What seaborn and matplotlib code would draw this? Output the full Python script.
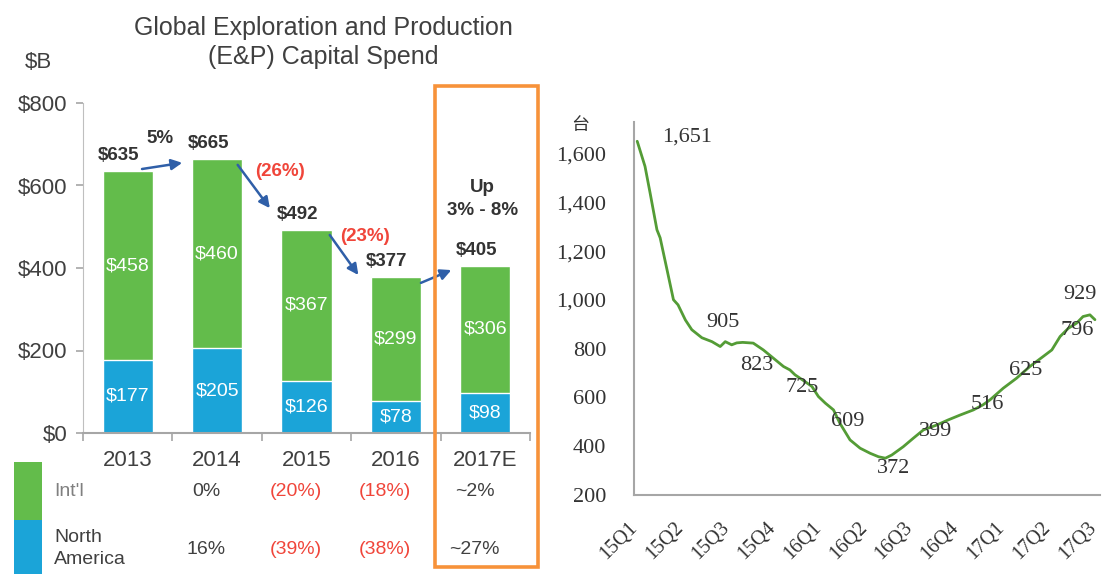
import numpy as np
import matplotlib
matplotlib.use("Agg")
import matplotlib.pyplot as plt
import matplotlib.patches as mpatches
import matplotlib.transforms as mtransforms
import seaborn as sns

# ---------------- data: E&P capital spend ($B) ----------------
years = ["2013", "2014", "2015", "2016", "2017E"]
intl = [458, 460, 367, 299, 306]
north_am = [177, 205, 126, 78, 98]
totals = [635, 665, 492, 377, 405]
yoy_change = ["5%", "(26%)", "(23%)", ""]
intl_growth = ["", "0%", "(20%)", "(18%)", "~2%"]
na_growth = ["", "16%", "(39%)", "(38%)", "~27%"]

# ---------------- data: rig count (台) ----------------
quarters = ["15Q1", "15Q2", "15Q3", "15Q4", "16Q1", "16Q2",
            "16Q3", "16Q4", "17Q1", "17Q2", "17Q3"]
rig_q = [0, 0.17, 0.28, 0.43, 0.5, 0.65, 0.79, 0.89, 1.05, 1.19, 1.41, 1.63,
         1.81, 1.92, 2.06, 2.17, 2.3, 2.53, 2.75, 2.97, 3.19, 3.33, 3.44, 3.66,
         3.81, 3.95, 4.1, 4.28, 4.42, 4.64, 4.86, 5.08, 5.26, 5.41, 5.55, 5.8,
         6.02, 6.24, 6.53, 6.78, 7.04, 7.33, 7.54, 7.69, 7.98, 8.27, 8.56, 8.85,
         9.04, 9.22, 9.4, 9.58, 9.72, 9.87, 9.98]
rig_count = [1651, 1548, 1440, 1288, 1255, 1124, 1001, 980, 918, 878, 845, 829,
             809, 829, 816, 824, 826, 823, 795, 761, 727, 713, 693, 665,
             645, 604, 577, 549, 494, 426, 392, 371, 357, 351, 364, 398,
             433, 467, 487, 508, 528, 549, 570, 590, 638, 679, 727, 768,
             795, 850, 884, 905, 932, 939, 919]
callouts = ["1,651", "905", "823", "725", "609", "372", "399", "516", "625", "796", "929"]
callout_pos = [(1.09, 1670), (1.87, 906), (2.61, 730), (3.59, 643), (4.58, 500),
               (5.58, 307), (6.51, 459), (7.63, 570), (8.47, 709), (9.59, 873),
               (9.65, 1021)]

GREEN = "#63bc4b"
BLUE = "#1ba4d8"
ARROW = "#2f5fa8"
RED = "#f0453a"
DARK = "#404040"
ORANGE = "#f7923a"

sns.set_style("white")
plt.rcParams["font.family"] = ["Liberation Sans", "DejaVu Sans"]

W, H = 1102, 574
fig = plt.figure(figsize=(W / 100, H / 100), dpi=100)


def fx(px):
    return px / W


def fy(py):
    return 1 - py / H


# =========================================================
# LEFT: stacked bars
# =========================================================
ax = fig.add_axes([fx(83), fy(433), fx(530) - fx(83), fy(103) - fy(433)])
sns.barplot(x=years, y=totals, color=GREEN, width=0.56, saturation=1, ax=ax)
sns.barplot(x=years, y=north_am, color=BLUE, width=0.56, saturation=1, ax=ax)
ax.set_xlim(-0.5, 4.5)
ax.set_ylim(0, 800)
ax.set_yticks([0, 200, 400, 600, 800])
ax.set_yticklabels(["$0", "$200", "$400", "$600", "$800"])
ax.set_xticks(range(5))
ax.set_xticklabels(years)
ax.set_xticks([-0.5, 0.5, 1.5, 2.5, 3.5, 4.5], minor=True)
ax.tick_params(axis="y", length=5, width=1.2, color="#a6a6a6", pad=6,
               labelsize=16, labelcolor=DARK, left=True)
ax.tick_params(axis="x", which="major", length=0, pad=12, labelsize=16, labelcolor=DARK)
ax.tick_params(axis="x", which="minor", length=6, width=1.2, color="#a6a6a6", bottom=True)
for s in ["top", "right"]:
    ax.spines[s].set_visible(False)
ax.spines["left"].set_color("#bfbfbf")
ax.spines["bottom"].set_color("#a6a6a6")
ax.spines["bottom"].set_linewidth(1.5)
ax.set_xlabel("")
ax.set_ylabel("")

for i in range(5):
    ax.text(i, north_am[i] / 2, f"${north_am[i]}", color="white", fontsize=14,
            ha="center", va="center")
    ax.text(i, north_am[i] + intl[i] / 2, f"${intl[i]}", color="white", fontsize=14,
            ha="center", va="center")
    ax.text(i - 0.1, totals[i] + 38, f"${totals[i]}", color="#333333", fontsize=13.5,
            fontweight="bold", ha="center", va="center")

arrows = [((0.16, 640), (0.61, 655)), ((1.23, 650), (1.59, 545)),
          ((2.26, 480), (2.58, 383)), ((3.28, 364), (3.62, 395))]
for (a, b) in arrows:
    ax.annotate("", xy=b, xytext=a,
                arrowprops=dict(arrowstyle="-|>", color=ARROW, lw=1.8,
                                mutation_scale=16, shrinkA=0, shrinkB=0))
change_pos = [(0.36, 713), (1.70, 633), (2.65, 477)]
for lab, (x, y) in zip(yoy_change, change_pos):
    ax.text(x, y, lab, fontsize=13.5, fontweight="bold", ha="center", va="center",
            color="#333333" if not lab.startswith("(") else RED)
ax.text(3.97, 596, "Up", fontsize=13.5, fontweight="bold", ha="center", va="center", color="#333333")
ax.text(3.97, 540, "3% - 8%", fontsize=13.5, fontweight="bold", ha="center", va="center", color="#333333")

fig.text(fx(323), fy(28), "Global Exploration and Production", fontsize=18,
         color=DARK, ha="center", va="center")
fig.text(fx(323), fy(57), "(E&P) Capital Spend", fontsize=18,
         color=DARK, ha="center", va="center")
fig.text(fx(38), fy(63), "$B", fontsize=16, color=DARK, ha="center", va="center")

# table under the bars
fig.add_artist(mpatches.Rectangle((fx(14), fy(520)), fx(42) - fx(14), fy(462) - fy(520),
                                  transform=fig.transFigure, color=GREEN, lw=0))
fig.add_artist(mpatches.Rectangle((fx(14), fy(574)), fx(42) - fx(14), fy(520) - fy(574),
                                  transform=fig.transFigure, color=BLUE, lw=0))
fig.text(fx(54), fy(492), "Int'l", fontsize=14, color="#808080", va="center")
fig.text(fx(54), fy(538), "North", fontsize=14, color=DARK, va="center")
fig.text(fx(54), fy(560), "America", fontsize=14, color=DARK, va="center")
trans = mtransforms.blended_transform_factory(ax.transData, fig.transFigure)
for i in range(1, 5):
    for lab, row_y in ((intl_growth[i], 492), (na_growth[i], 550)):
        ax.text(i - 0.12, fy(row_y), lab, transform=trans, fontsize=14,
                ha="center", va="center", clip_on=False,
                color=RED if lab.startswith("(") else DARK)

fig.add_artist(mpatches.Rectangle((fx(435), fy(567)), fx(538) - fx(435), fy(86) - fy(567),
                                  transform=fig.transFigure, fill=False,
                                  edgecolor=ORANGE, lw=2.6))

# =========================================================
# RIGHT: rig count line
# =========================================================
serif = ["Liberation Serif", "DejaVu Serif"]
ax2 = fig.add_axes([fx(634), fy(495), fx(1100) - fx(634), fy(122) - fy(495)])
sns.lineplot(x=rig_q, y=rig_count, color="#549c36", lw=2.0, ax=ax2)
ax2.set_xlim(-0.07, 10.09)
ax2.set_ylim(200, 1730)
ax2.set_yticks([200, 400, 600, 800, 1000, 1200, 1400, 1600])
ax2.set_yticklabels([f"{v:,}" for v in [200, 400, 600, 800, 1000, 1200, 1400, 1600]],
                    family=serif, fontsize=16, color="#333333")
ax2.set_xticks(range(len(quarters)))
ax2.set_xticklabels(quarters, family=serif, fontsize=14.5, color="#333333",
                    rotation=45, ha="right", va="top", rotation_mode="anchor")
ax2.tick_params(axis="both", length=0)
ax2.tick_params(axis="y", pad=20)
ax2.tick_params(axis="x", pad=17)
# nudge the rotated quarter labels a little to the left (after tick_params)
offset = mtransforms.ScaledTranslation(-9 / 100, 0, fig.dpi_scale_trans)
for lbl in ax2.get_xticklabels():
    lbl.set_transform(lbl.get_transform() + offset)
for s in ["top", "right"]:
    ax2.spines[s].set_visible(False)
for s in ["left", "bottom"]:
    ax2.spines[s].set_color("#a6a6a6")
    ax2.spines[s].set_linewidth(1.5)
ax2.set_xlabel("")
ax2.set_ylabel("")

for lab, (x, y) in zip(callouts, callout_pos):
    ax2.text(x, y, lab, family=serif, fontsize=16, color="#333333",
             ha="center", va="center")

fig.text(fx(580), fy(125), "台", family=["Noto Sans CJK SC", "DejaVu Sans"],
         fontsize=13, color="#333333", ha="center", va="center")

fig.savefig("out.png", dpi=100)
